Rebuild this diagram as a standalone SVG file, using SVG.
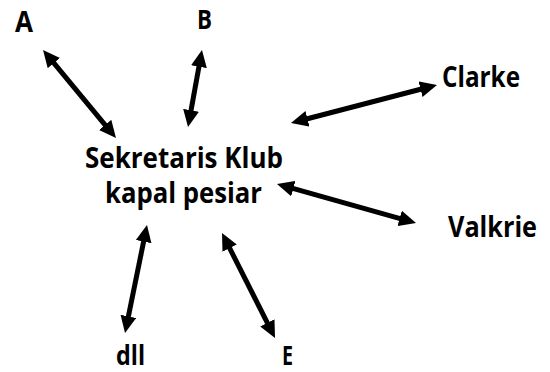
<svg xmlns="http://www.w3.org/2000/svg" width="550" height="372" viewBox="0 0 550 372">
<style>
text{font-family:"Open Sans","Liberation Sans",sans-serif;font-weight:bold;font-size:28px;fill:#000}
.s{font-size:26px}
.c{stroke:#000;stroke-width:5;fill:none;marker-start:url(#ah);marker-end:url(#ah)}
</style>
<defs>
<marker id="ah" markerUnits="userSpaceOnUse" viewBox="0 0 17 16" markerWidth="17" markerHeight="16" refX="7" refY="8" orient="auto-start-reverse">
<path d="M0,0 L17,8 L0,16 z" fill="#000"/>
</marker>
</defs>
<rect width="550" height="372" fill="#fff"/>
<g id="connectors">
<line class="c" x1="49.4" y1="57.7" x2="109.6" y2="130.3"/>
<line class="c" x1="200.2" y1="59.8" x2="189.8" y2="117.2"/>
<line class="c" x1="427.3" y1="87.5" x2="300.7" y2="120.5"/>
<line class="c" x1="286.6" y1="186.7" x2="406.4" y2="220.3"/>
<line class="c" x1="145" y1="234.8" x2="127" y2="323.2"/>
<line class="c" x1="226.5" y1="241.9" x2="270.5" y2="329.1"/>
</g>
<g id="center">
<text x="85" y="168" textLength="198" lengthAdjust="spacingAndGlyphs">Sekretaris Klub</text>
<text x="105" y="203" textLength="157" lengthAdjust="spacingAndGlyphs">kapal pesiar</text>
</g>
<g id="nA"><text x="15" y="32" textLength="18" lengthAdjust="spacingAndGlyphs">A</text></g>
<g id="nB"><text class="s" x="197" y="29" textLength="15" lengthAdjust="spacingAndGlyphs">B</text></g>
<g id="nClarke"><text x="442" y="87" textLength="78" lengthAdjust="spacingAndGlyphs">Clarke</text></g>
<g id="nValkrie"><text x="448" y="237" textLength="89" lengthAdjust="spacingAndGlyphs">Valkrie</text></g>
<g id="nDll"><text class="s" x="116" y="365" textLength="29" lengthAdjust="spacingAndGlyphs">dll</text></g>
<g id="nE"><text class="s" x="282" y="365" textLength="11" lengthAdjust="spacingAndGlyphs">E</text></g>
</svg>
